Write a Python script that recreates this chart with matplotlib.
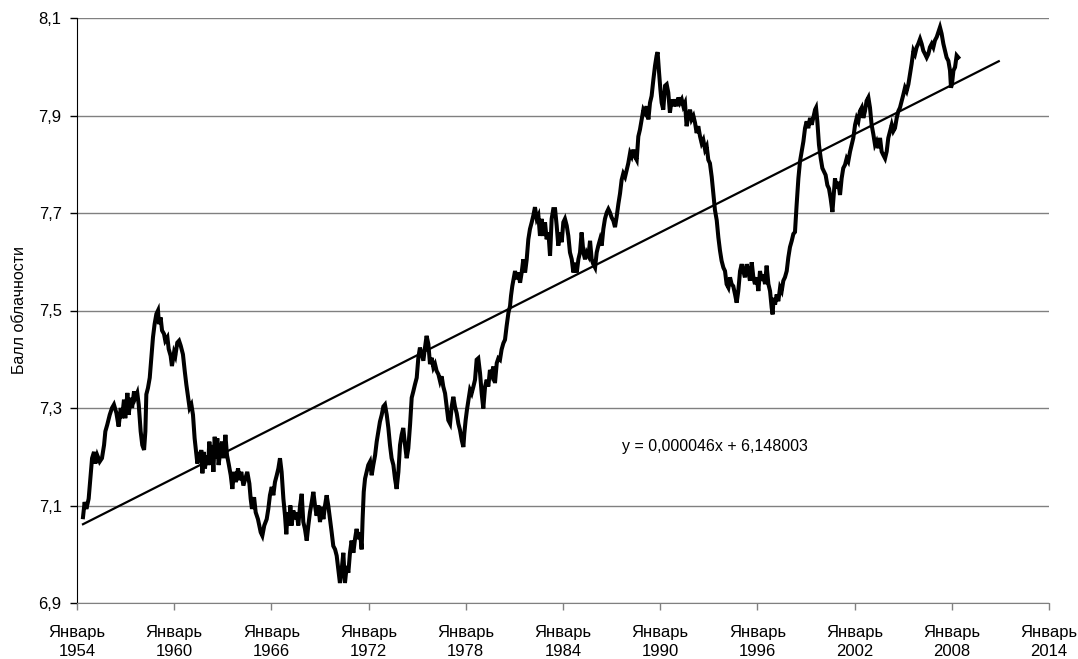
import matplotlib
matplotlib.use("Agg")
import matplotlib.pyplot as plt
import numpy as np

# ---- data (decimal year, cloud score) ----
years = [
 1954.37,1954.47,1954.58,1954.72,1954.84,1954.93,1955.05,1955.13,1955.25,1955.40,1955.54,1955.67,1955.75,1955.87,
 1956.02,1956.16,1956.28,1956.43,1956.57,1956.70,1956.78,1956.90,1956.98,1957.11,1957.19,1957.31,1957.40,1957.52,
 1957.60,1957.72,1957.81,1957.93,1958.03,1958.14,1958.22,1958.28,1958.38,1958.49,1958.59,1958.69,1958.79,1958.90,
 1959.00,1959.06,1959.16,1959.25,1959.37,1959.45,1959.58,1959.66,1959.78,1959.86,1959.99,1960.07,1960.19,1960.30,
 1960.40,1960.54,1960.65,1960.75,1960.85,1960.95,1961.06,1961.16,1961.26,1961.37,1961.43,1961.51,1961.59,1961.67,
 1961.74,1961.82,1961.90,1961.98,1962.09,1962.17,1962.25,1962.33,1962.42,1962.50,1962.58,1962.66,1962.74,1962.87,
 1962.95,1963.05,1963.16,1963.26,1963.36,1963.49,1963.59,1963.69,1963.81,1963.94,1964.04,1964.14,1964.27,1964.39,
 1964.51,1964.64,1964.72,1964.80,1964.93,1965.03,1965.17,1965.34,
 1965.44,1965.56,1965.71,1965.81,1965.91,1966.02,1966.12,1966.22,1966.33,1966.43,1966.53,1966.63,1966.74,1966.84,
 1966.92,1967.00,1967.09,1967.17,1967.25,1967.35,1967.46,1967.56,1967.66,1967.77,1967.87,1967.97,1968.07,1968.18,
 1968.28,1968.38,1968.49,1968.59,1968.69,1968.79,1968.90,1969.00,1969.10,1969.21,1969.31,1969.41,1969.51,1969.62,
 1969.72,1969.82,1969.93,1970.03,1970.13,1970.23,1970.34,1970.44,1970.54,1970.65,1970.75,1970.85,1970.95,1971.06,
 1971.16,1971.26,1971.37,1971.47,1971.57,1971.63,1971.70,1971.78,1971.88,1971.98,1972.09,1972.19,1972.29,1972.40,
 1972.50,1972.60,1972.70,1972.81,1972.91,1973.01,1973.12,1973.22,1973.32,1973.42,1973.53,1973.63,1973.73,1973.84,
 1973.94,1974.04,1974.14,1974.25,1974.35,1974.45,1974.56,1974.66,1974.76,1974.86,1974.97,1975.07,1975.17,1975.28,
 1975.38,1975.48,1975.58,1975.69,1975.79,1975.89,1976.00,1976.10,1976.20,1976.31,1976.41,
 1976.51,1976.61,1976.72,1976.82,1976.92,1977.03,1977.13,1977.23,1977.33,1977.44,1977.54,1977.64,1977.75,1977.85,
 1977.91,1977.99,1978.07,1978.16,1978.26,1978.36,1978.47,1978.57,1978.67,1978.77,1978.88,1978.98,1979.08,1979.19,
 1979.29,1979.39,1979.49,1979.60,1979.70,1979.80,1979.91,1980.01,1980.11,1980.21,1980.32,1980.42,1980.52,1980.63,
 1980.73,1980.79,1980.87,1980.96,1981.04,1981.14,1981.24,1981.35,1981.45,1981.55,1981.66,1981.76,1981.86,1981.96,
 1982.07,1982.17,1982.27,1982.38,1982.48,1982.58,1982.68,1982.79,1982.89,1982.99,1983.10,1983.20,1983.30,1983.40,
 1983.51,1983.61,1983.71,1983.82,1983.92,1984.02,1984.12,1984.23,1984.33,1984.43,1984.54,1984.64,1984.74,1984.85,
 1984.95,1985.05,1985.15,1985.26,1985.36,1985.46,1985.57,1985.67,1985.77,1985.87,1985.98,1986.08,1986.18,1986.29,
 1986.39,1986.49,1986.59,1986.70,1986.80,1986.90,1987.00,1987.11,
 1987.21,1987.31,1987.42,1987.52,1987.62,1987.72,1987.83,1987.93,1988.03,1988.14,1988.24,1988.34,1988.44,1988.55,
 1988.65,1988.75,1988.86,1988.96,1989.06,1989.16,1989.27,1989.37,1989.47,1989.58,1989.68,1989.78,1989.84,1989.93,
 1990.01,1990.09,1990.19,1990.30,1990.40,1990.50,1990.60,1990.71,1990.81,1990.91,1991.02,1991.12,1991.22,1991.33,
 1991.43,1991.53,1991.63,1991.74,1991.84,1991.94,1992.05,1992.15,1992.25,1992.35,1992.46,1992.56,1992.66,1992.77,
 1992.87,1992.97,1993.07,1993.18,1993.28,1993.38,1993.49,1993.59,1993.69,1993.79,1993.90,1994.00,1994.10,1994.21,
 1994.31,1994.41,1994.51,1994.62,1994.72,1994.82,1994.93,1995.03,1995.13,1995.23,1995.34,1995.44,1995.54,1995.65,
 1995.75,1995.85,1995.96,1996.06,1996.16,1996.26,1996.37,1996.47,1996.57,1996.68,1996.78,1996.88,1996.94,1997.00,
 1997.09,1997.19,1997.29,1997.40,1997.50,1997.60,1997.70,1997.81,1997.91,1998.01,1998.12,1998.22,
 1998.32,1998.42,1998.53,1998.63,1998.73,1998.84,1998.94,1999.04,1999.14,1999.25,1999.35,1999.45,1999.56,1999.62,
 1999.70,1999.80,1999.91,2000.01,2000.11,2000.21,2000.32,2000.42,2000.52,2000.63,2000.71,2000.79,2000.89,2000.99,
 2001.10,2001.20,2001.30,2001.41,2001.51,2001.61,2001.72,2001.82,2001.92,2002.03,2002.13,2002.23,2002.33,2002.44,
 2002.54,2002.64,2002.74,2002.85,2002.95,2003.05,2003.16,2003.26,2003.36,2003.47,2003.57,2003.67,2003.77,2003.88,
 2003.98,2004.08,2004.19,2004.29,2004.39,2004.49,2004.60,2004.70,2004.80,2004.91,2005.01,2005.11,2005.21,2005.32,
 2005.42,2005.52,2005.63,2005.73,2005.83,2005.93,2006.04,2006.14,2006.24,2006.35,2006.45,2006.55,2006.65,2006.76,
 2006.86,2006.96,2007.07,2007.17,2007.27,2007.37,2007.48,2007.58,2007.68,2007.79,2007.89,2007.95,2008.01,2008.10,
 2008.20,2008.30,2008.40,
]
cloud = [
 7.076,7.107,7.093,7.114,7.162,7.197,7.210,7.186,7.203,7.190,7.197,7.224,7.252,7.266,
 7.286,7.300,7.307,7.290,7.262,7.300,7.279,7.317,7.279,7.331,7.286,7.321,7.300,7.334,
 7.321,7.331,7.307,7.252,7.224,7.214,7.252,7.328,7.341,7.362,7.403,7.445,7.472,7.493,
 7.500,7.472,7.486,7.459,7.452,7.438,7.445,7.421,7.407,7.386,7.414,7.407,7.434,7.438,
 7.428,7.410,7.376,7.348,7.324,7.300,7.307,7.286,7.238,7.203,7.186,7.210,7.190,7.214,
 7.166,7.210,7.176,7.203,7.183,7.231,7.183,7.224,7.169,7.241,7.197,7.238,7.183,7.217,
 7.231,7.197,7.245,7.203,7.186,7.162,7.134,7.169,7.148,7.176,7.152,7.169,7.141,7.155,
 7.169,7.145,7.114,7.093,7.117,7.086,7.072,7.045,
 7.038,7.059,7.072,7.093,7.121,7.138,7.121,7.148,7.162,7.176,7.197,7.169,7.114,7.079,
 7.041,7.086,7.059,7.100,7.059,7.090,7.072,7.086,7.059,7.100,7.124,7.066,7.052,7.028,
 7.059,7.086,7.107,7.128,7.100,7.079,7.100,7.066,7.097,7.072,7.100,7.121,7.100,7.072,
 7.045,7.017,7.010,6.997,6.969,6.941,6.969,7.003,6.941,6.976,6.962,7.003,7.028,7.003,
 7.031,7.052,7.031,7.045,7.010,7.072,7.128,7.155,7.169,7.183,7.190,7.162,7.183,7.203,
 7.231,7.252,7.272,7.286,7.303,7.307,7.286,7.259,7.224,7.197,7.183,7.155,7.134,7.169,
 7.224,7.245,7.259,7.224,7.197,7.217,7.266,7.321,7.334,7.348,7.362,7.403,7.424,7.410,
 7.397,7.424,7.448,7.431,7.390,7.403,7.383,7.390,7.376,7.369,7.355,
 7.365,7.344,7.330,7.303,7.275,7.268,7.303,7.323,7.303,7.289,7.268,7.255,7.234,7.220,
 7.248,7.275,7.296,7.316,7.337,7.330,7.344,7.358,7.399,7.402,7.371,7.330,7.299,7.344,
 7.358,7.344,7.378,7.368,7.385,7.351,7.392,7.402,7.399,7.420,7.433,7.440,7.468,7.495,
 7.509,7.530,7.550,7.567,7.581,7.564,7.578,7.557,7.578,7.605,7.578,7.605,7.646,7.667,
 7.681,7.695,7.712,7.688,7.695,7.653,7.688,7.653,7.681,7.646,7.660,7.612,7.688,7.708,
 7.708,7.674,7.633,7.660,7.640,7.681,7.688,7.674,7.653,7.619,7.605,7.578,7.598,7.578,
 7.605,7.619,7.660,7.619,7.605,7.619,7.612,7.643,7.605,7.595,7.588,7.619,7.633,7.646,
 7.633,7.667,7.688,7.701,7.708,7.701,7.691,7.684,
 7.671,7.692,7.719,7.740,7.768,7.781,7.774,7.788,7.802,7.823,7.816,7.830,7.816,7.809,
 7.857,7.871,7.892,7.912,7.906,7.919,7.892,7.926,7.940,7.974,8.002,8.023,8.030,7.988,
 7.954,7.926,7.912,7.961,7.964,7.947,7.906,7.933,7.919,7.933,7.919,7.937,7.926,7.933,
 7.919,7.926,7.878,7.899,7.912,7.892,7.899,7.885,7.864,7.878,7.857,7.843,7.850,7.830,
 7.837,7.809,7.802,7.774,7.740,7.706,7.685,7.650,7.623,7.602,7.588,7.581,7.554,7.547,
 7.568,7.554,7.550,7.533,7.516,7.540,7.581,7.595,7.581,7.568,7.595,7.581,7.561,7.599,
 7.568,7.554,7.568,7.540,7.581,7.561,7.574,7.554,7.592,7.554,7.540,7.506,7.492,7.526,
 7.512,7.533,7.519,7.547,7.540,7.561,7.568,7.581,7.609,7.630,7.643,7.657,
 7.661,7.716,7.771,7.806,7.826,7.847,7.874,7.888,7.874,7.895,7.881,7.895,7.912,7.916,
 7.888,7.840,7.812,7.792,7.785,7.778,7.757,7.750,7.730,7.702,7.737,7.771,7.750,7.764,
 7.737,7.771,7.792,7.799,7.812,7.806,7.826,7.840,7.854,7.881,7.895,7.888,7.909,7.916,
 7.895,7.909,7.930,7.937,7.916,7.881,7.861,7.840,7.847,7.833,7.854,7.826,7.819,7.812,
 7.826,7.854,7.868,7.881,7.868,7.874,7.895,7.909,7.916,7.930,7.943,7.957,7.950,7.964,
 7.985,8.006,8.033,8.026,8.040,8.047,8.057,8.047,8.033,8.026,8.019,8.026,8.040,8.047,
 8.040,8.054,8.061,8.071,8.081,8.068,8.047,8.033,8.019,8.012,7.992,7.957,7.964,7.992,
 7.999,8.023,8.019,
]

# linear trend as printed on the chart (x = Excel date serial)
trend_slope = 0.000046
trend_intercept = 6.148003
trend_end_year = 2010.9
equation_text = "y = 0,000046x + 6,148003"

tick_years = [1954, 1960, 1966, 1972, 1978, 1984, 1990, 1996, 2002, 2008, 2014]
tick_labels = [f"Январь\n{y}" for y in tick_years]
y_ticks = [6.9, 7.1, 7.3, 7.5, 7.7, 7.9, 8.1]
y_labels = [f"{v:.1f}".replace(".", ",") for v in y_ticks]
y_title = "Балл облачности"

plt.rcParams['font.family'] = ['Liberation Sans', 'DejaVu Sans']

def excel_serial(yr):
    yr = np.asarray(yr, dtype=float)
    return 25569.0 + (yr - 1970.0) * 365.2425

fig = plt.figure(figsize=(10.78, 6.59), dpi=100)
ax = fig.add_axes([77/1078, 1 - 603/659, (1049-77)/1078, (603-18)/659])

for v in y_ticks:
    ax.axhline(v, color='#808080', lw=1.0, zorder=1)

ax.plot(years, cloud, color='black', lw=2.9, solid_joinstyle='miter', zorder=3)

tx = np.array([years[0], trend_end_year])
ty = trend_slope * excel_serial(tx) + trend_intercept
ax.plot(tx, ty, color='black', lw=1.6, zorder=4)

ax.text(0.561, 0.267, equation_text, transform=ax.transAxes, fontsize=11.5,
        ha='left', va='center')

ax.set_xlim(1954, 2014)
ax.set_ylim(6.9, 8.1)
ax.set_xticks(tick_years)
ax.set_xticklabels(tick_labels, fontsize=12, linespacing=1.35)
ax.set_yticks(y_ticks)
ax.set_yticklabels(y_labels, fontsize=12)
ax.set_ylabel(y_title, fontsize=11.5, labelpad=8)

for s in ['top', 'right']:
    ax.spines[s].set_visible(False)
ax.spines['left'].set_color('black')
ax.spines['bottom'].set_color('#808080')
ax.tick_params(axis='x', direction='out', length=5, width=1, color='#808080', pad=11)
ax.tick_params(axis='y', direction='out', length=5, width=1, color='black', pad=6)

fig.savefig("out.png", dpi=100)
